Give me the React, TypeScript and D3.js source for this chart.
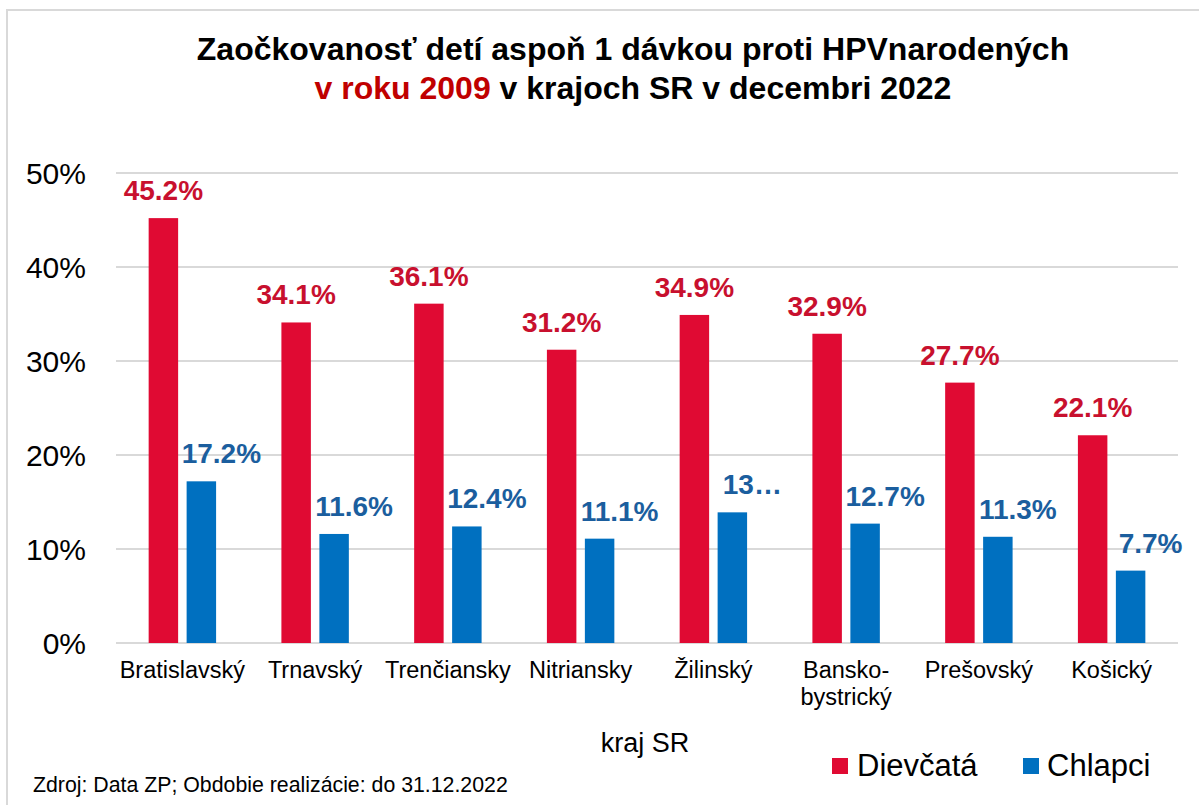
import React from "react";
import * as d3 from "d3";

const categories = ["Bratislavský", "Trnavský", "Trenčiansky", "Nitriansky", "Žilinský", "Banskobystrický", "Prešovský", "Košický"];
const categoryLabelLines = [["Bratislavský"], ["Trnavský"], ["Trenčiansky"], ["Nitriansky"], ["Žilinský"], ["Bansko-", "bystrický"], ["Prešovský"], ["Košický"]];
const girls = [45.2, 34.1, 36.1, 31.2, 34.9, 32.9, 27.7, 22.1];
const boys = [17.2, 11.6, 12.4, 11.1, 13.9, 12.7, 11.3, 7.7];
const truncatedBoysLabel = "Žilinský";
const yTicks = [0, 10, 20, 30, 40, 50];
const seriesNames = ["Dievčatá", "Chlapci"];
const titleLine1 = "Zaočkovanosť detí aspoň 1 dávkou proti HPVnarodených";
const titleLine2Red = "v roku 2009";
const titleLine2Rest = " v krajoch SR v decembri 2022";
const axisTitle = "kraj SR";
const footnote = "Zdroj: Data ZP; Obdobie realizácie: do 31.12.2022";

const RED = "#E00A33";
const BLUE = "#0070C0";
const RED_LABEL = "#C8102E";
const BLUE_LABEL = "#1B5E9E";
const GRID = "#D9D9D9";
const FONT = "'Liberation Sans', Arial, sans-serif";

export default function App() {
  const W = 1199, H = 805;
  const x = d3.scaleBand<string>().domain(categories).range([116, 1178]).padding(0);
  const y = d3.scaleLinear().domain([0, 50]).range([643, 173]);
  const bw = x.bandwidth();
  const barW = bw * 0.222;
  const gap = bw * 0.064;
  const fmt = (v: number) => d3.format(".1f")(v) + "%";

  return (
    <div style={{ position: "absolute", left: 0, top: 0 }}>
      <svg width={W} height={H} style={{ display: "block", fontFamily: FONT }}>
        <rect x={0} y={0} width={W} height={H} fill="#fff" />
        <rect x={7} y={10} width={W + 10} height={H + 10} fill="#fff" stroke={GRID} strokeWidth={2} />
        <text x={633} y={60} textAnchor="middle" fontSize={32} fontWeight="bold" fill="#000">{titleLine1}</text>
        <text x={633} y={99} textAnchor="middle" fontSize={32} fontWeight="bold" fill="#000">
          <tspan fill="#C00000">{titleLine2Red}</tspan>
          <tspan>{titleLine2Rest}</tspan>
        </text>
        {yTicks.map((t) => (
          <g key={t}>
            <line x1={116} x2={1178} y1={y(t)} y2={y(t)} stroke={GRID} strokeWidth={2} />
            <text x={86} y={y(t)} dy="0.36em" textAnchor="end" fontSize={30} fill="#000">{t}%</text>
          </g>
        ))}
        {categories.map((c, i) => {
          const cx = (x(c) as number) + bw / 2;
          const rx = cx - gap / 2 - barW;
          const bx = cx + gap / 2;
          const bl = c === truncatedBoysLabel ? fmt(boys[i]).slice(0, 2) + "…" : fmt(boys[i]);
          return (
            <g key={c}>
              <rect x={rx} y={y(girls[i])} width={barW} height={y(0) - y(girls[i])} fill={RED} />
              <rect x={bx} y={y(boys[i])} width={barW} height={y(0) - y(boys[i])} fill={BLUE} />
              <text x={rx + barW / 2} y={y(girls[i]) - 18} textAnchor="middle" fontSize={28} fontWeight="bold" fill={RED_LABEL}>{fmt(girls[i])}</text>
              <text x={bx + barW / 2 + 20} y={y(boys[i]) - 18} textAnchor="middle" fontSize={28} fontWeight="bold" fill={BLUE_LABEL}>{bl}</text>
              {categoryLabelLines[i].map((ln, j) => (
                <text key={j} x={cx} y={678 + j * 27} textAnchor="middle" fontSize={23.5} fill="#000">{ln}</text>
              ))}
            </g>
          );
        })}
        <text x={645} y={752} textAnchor="middle" fontSize={27} fill="#000">{axisTitle}</text>
        <rect x={832} y={758} width={16} height={16} fill={RED} />
        <text x={857} y={776} fontSize={31} fill="#000">{seriesNames[0]}</text>
        <rect x={1023} y={758} width={16} height={16} fill={BLUE} />
        <text x={1047} y={776} fontSize={31} fill="#000">{seriesNames[1]}</text>
        <text x={33} y={792} fontSize={21.3} fill="#000">{footnote}</text>
      </svg>
    </div>
  );
}
